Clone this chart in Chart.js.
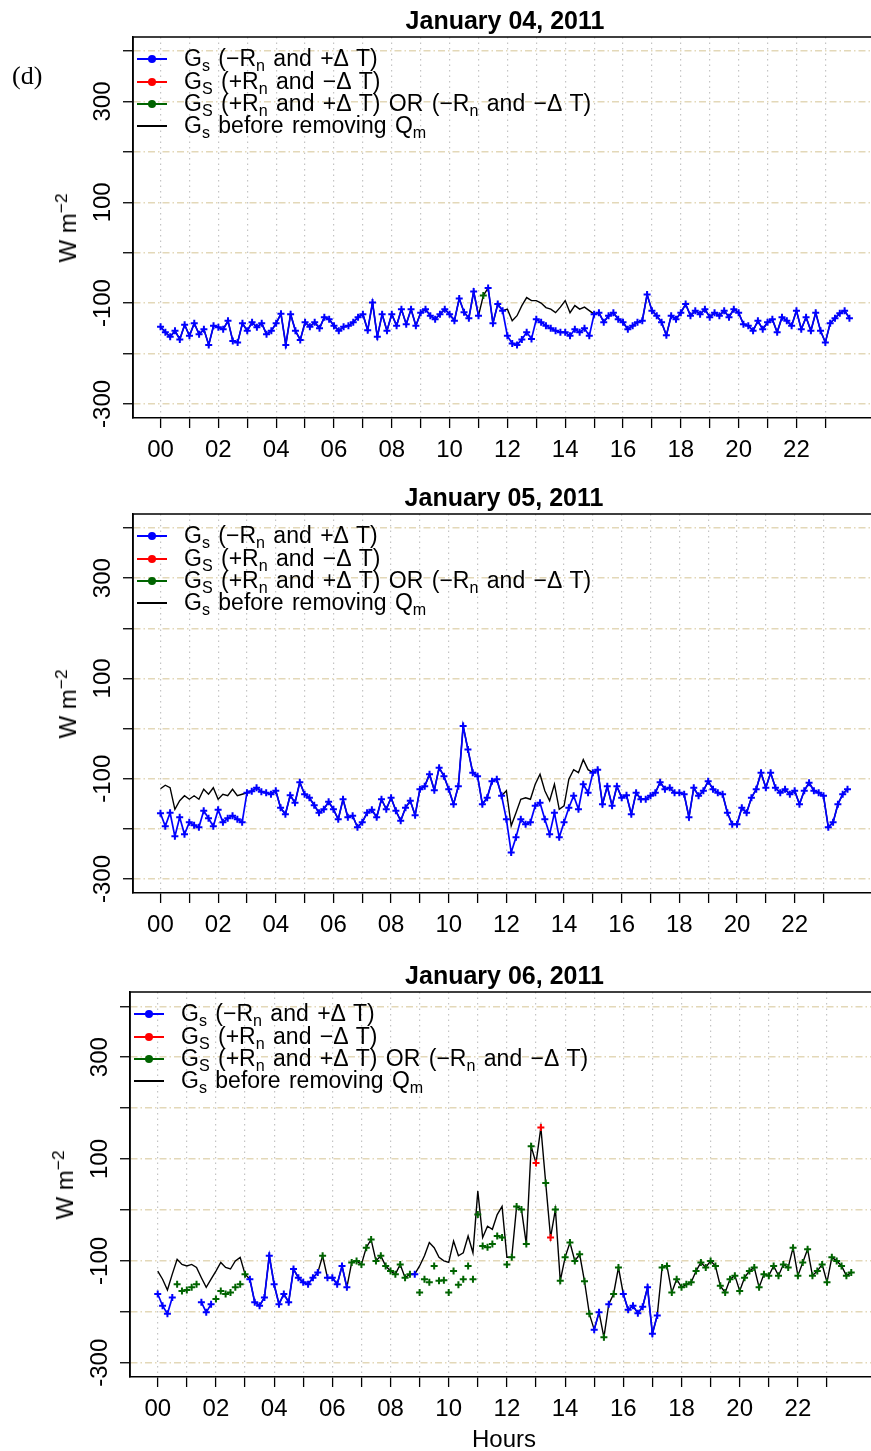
<!DOCTYPE html>
<html>
<head>
<meta charset="utf-8">
<script src="https://cdn.jsdelivr.net/npm/chart.js@4.4.1/dist/chart.umd.min.js"></script>
<style>
  html, body { margin: 0; padding: 0; background: #fff; overflow: hidden; }
  #page { position: relative; width: 871px; height: 1451px; overflow: hidden;
          font-family: "Liberation Sans", Arial, sans-serif; color: #000; }
  canvas { position: absolute; left: 0; }
  .lg-text { position: absolute; font-size: 23px; line-height: 24px; white-space: pre; word-spacing: 2px; }
  .lg-text sub { font-size: 70%; vertical-align: -0.3em; line-height: 0; }
  .lg-line { position: absolute; height: 2px; width: 30px; }
  .lg-dot { position: absolute; width: 8px; height: 8px; border-radius: 50%; }
  .ytitle { position: absolute; font-size: 24px; white-space: pre; transform: translate(-50%, -50%) rotate(-90deg); }
  .ytitle sup { font-size: 72%; vertical-align: 0.55em; line-height: 0; }
  .panel-tag { position: absolute; font-family: "Liberation Serif", "Times New Roman", serif; font-size: 26px; }
  .xtitle { position: absolute; font-size: 24px; transform: translate(-50%, -50%); }
</style>
</head>
<body>
<div id="page"></div>
<script>
// 10-minute ground heat flux, W m-2, one value per slot from 00:00 to 23:50
const STEP_MIN = 10;

const hourTicks = [0, 1, 2, 3, 4, 5, 6, 7, 8, 9, 10, 11, 12, 13, 14, 15, 16, 17, 18, 19, 20, 21, 22, 23];
const hourTickLabels = ['00', '', '02', '', '04', '', '06', '', '08', '', '10', '', '12', '', '14', '', '16', '', '18', '', '20', '', '22', ''];
const yTicks = [-300, -200, -100, 0, 100, 200, 300, 400];
const yTickLabelled = [-300, -100, 100, 300];

// January 04
const gs04 = [
  -147, -158, -167, -155, -172, -143,
  -165, -140, -162, -152, -183, -145,
  -148, -152, -135, -175, -178, -140,
  -155, -138, -148, -140, -162, -155,
  -140, -121, -183, -122, -155, -173,
  -138, -147, -138, -150, -128, -132,
  -145, -155, -147, -145, -138, -128,
  -122, -154, -99, -167, -122, -155,
  -122, -145, -112, -142, -112, -145,
  -119, -112, -125, -132, -122, -112,
  -122, -135, -91, -118, -130, -77,
  -125, -85, -70, -140, -102, -115,
  -165, -180, -183, -172, -158, -171,
  -132, -138, -145, -150, -155, -158,
  -158, -165, -152, -158, -150, -165,
  -122, -119, -138, -125, -119, -132,
  -138, -152, -145, -138, -135, -83,
  -115, -125, -138, -164, -125, -132,
  -119, -102, -125, -115, -122, -112,
  -128, -119, -125, -115, -128, -112,
  -119, -142, -145, -155, -135, -152,
  -138, -132, -158, -128, -135, -145,
  -115, -152, -128, -155, -119, -155,
  -178, -140, -130, -120, -115, -130
];
const before04 = [
  -147, -158, -167, -155, -172, -143,
  -165, -140, -162, -152, -183, -145,
  -148, -152, -135, -175, -178, -140,
  -155, -138, -148, -140, -162, -155,
  -140, -121, -183, -122, -155, -173,
  -138, -147, -138, -150, -128, -132,
  -145, -155, -147, -145, -138, -128,
  -122, -154, -99, -167, -122, -155,
  -122, -145, -112, -142, -112, -145,
  -119, -112, -125, -132, -122, -112,
  -122, -135, -91, -118, -130, -77,
  -125, -85, -70, -140, -102, -115,
  -112, -135, -125, -105, -89, -95,
  -95, -100, -109, -112, -119, -108,
  -95, -119, -105, -112, -108, -115,
  -122, -119, -138, -125, -119, -132,
  -138, -152, -145, -138, -135, -83,
  -115, -125, -138, -164, -125, -132,
  -119, -102, -125, -115, -122, -112,
  -128, -119, -125, -115, -128, -112,
  -119, -142, -145, -155, -135, -152,
  -138, -132, -158, -128, -135, -145,
  -115, -152, -128, -155, -119, -155,
  -178, -140, -130, -120, -115, -130
];
// b: -Rn and +dT, r: +Rn and -dT, g: both same sign
const cls04 = [
  'bbbbbb', 'bbbbbb', 'bbbbbb', 'bbbbbb', 'bbbbbb', 'bbbbbb',
  'bbbbbb', 'bbbbbb', 'bbbbbb', 'bbbbbb', 'bbbbbb', 'bgbbbb',
  'bbbbbb', 'bbbbbb', 'bbbbbb', 'bbbbbb', 'bbbbbb', 'bbbbbb',
  'bbbbbb', 'bbbbbb', 'bbbbbb', 'bbbbbb', 'bbbbbb', 'bbbbbb'
].join('');

// January 05
const gs05 = [
  -169, -195, -168, -215, -177, -211,
  -187, -193, -197, -164, -179, -195,
  -162, -187, -179, -174, -181, -187,
  -128, -125, -118, -126, -128, -131,
  -124, -158, -171, -133, -148, -107,
  -131, -138, -153, -168, -161, -146,
  -161, -181, -141, -177, -174, -197,
  -187, -168, -162, -177, -141, -161,
  -138, -164, -184, -158, -144, -173,
  -121, -115, -91, -123, -78, -95,
  -121, -151, -115, 5, -42, -88,
  -95, -151, -138, -105, -101, -134,
  -181, -247, -217, -181, -191, -187,
  -154, -148, -181, -211, -168, -217,
  -187, -158, -134, -161, -111, -128,
  -88, -82, -151, -115, -154, -115,
  -138, -133, -171, -128, -141, -141,
  -134, -128, -107, -121, -118, -128,
  -128, -131, -177, -118, -134, -124,
  -105, -121, -128, -131, -168, -191,
  -191, -158, -168, -138, -121, -88,
  -118, -88, -118, -128, -121, -131,
  -124, -151, -124, -108, -124, -128,
  -134, -197, -187, -151, -131, -121
];
const before05 = [
  -120, -113, -118, -161, -144, -134,
  -141, -134, -141, -121, -131, -118,
  -141, -131, -134, -121, -134, -131,
  -128, -125, -118, -126, -128, -131,
  -124, -158, -171, -133, -148, -107,
  -131, -138, -153, -168, -161, -146,
  -161, -181, -141, -177, -174, -197,
  -187, -168, -162, -177, -141, -161,
  -138, -164, -184, -158, -144, -173,
  -121, -115, -91, -123, -78, -95,
  -121, -151, -115, 5, -42, -88,
  -95, -151, -138, -105, -101, -134,
  -124, -194, -168, -141, -138, -141,
  -111, -91, -124, -144, -111, -161,
  -154, -101, -82, -88, -62, -82,
  -88, -82, -151, -115, -154, -115,
  -138, -133, -171, -128, -141, -141,
  -134, -128, -107, -121, -118, -128,
  -128, -131, -177, -118, -134, -124,
  -105, -121, -128, -131, -168, -191,
  -191, -158, -168, -138, -121, -88,
  -118, -88, -118, -128, -121, -131,
  -124, -151, -124, -108, -124, -128,
  -134, -197, -187, -151, -131, -121
];
const cls05 = 'bbbbbb'.repeat(24);

// January 06
const gs06 = [
  -165, -188, -204, -172, -146, -159,
  -157, -152, -146, -181, -201, -185,
  -175, -159, -165, -162, -152, -146,
  -126, -136, -181, -188, -172, -90,
  -146, -185, -165, -181, -116, -133,
  -142, -146, -133, -123, -90, -133,
  -133, -146, -110, -152, -103, -100,
  -107, -74, -58, -100, -90, -110,
  -120, -126, -107, -133, -126, -126,
  -162, -136, -142, -110, -139, -138,
  -162, -120, -147, -136, -110, -136,
  -9, -71, -73, -67, -51, -54,
  -107, -93, 7, 1, -67, 125,
  92, 162, 53, -54, 1, -139,
  -93, -64, -100, -87, -140, -204,
  -235, -201, -250, -185, -165, -113,
  -165, -196, -188, -203, -190, -152,
  -243, -207, -113, -110, -162, -136,
  -152, -146, -142, -120, -103, -113,
  -100, -110, -149, -162, -136, -129,
  -159, -133, -120, -113, -152, -126,
  -129, -110, -129, -107, -113, -74,
  -129, -103, -77, -129, -120, -107,
  -142, -93, -100, -110, -129, -123
];
const before06 = [
  -120, -136, -157, -126, -97, -107,
  -110, -107, -113, -133, -152, -136,
  -120, -103, -113, -116, -100, -93,
  -126, -136, -181, -188, -172, -90,
  -146, -185, -165, -181, -116, -133,
  -142, -146, -133, -123, -90, -133,
  -133, -146, -110, -152, -103, -100,
  -107, -74, -58, -100, -90, -110,
  -120, -126, -107, -133, -126, -126,
  -110, -90, -64, -74, -93, -100,
  -103, -61, -90, -84, -51, -84,
  37, -54, -32, -38, -9, 7,
  -93, -93, 7, 1, -67, 125,
  92, 162, 53, -54, 1, -139,
  -93, -64, -100, -87, -140, -204,
  -235, -201, -250, -185, -165, -113,
  -165, -196, -188, -203, -190, -152,
  -243, -207, -113, -110, -162, -136,
  -152, -146, -142, -120, -103, -113,
  -100, -110, -149, -162, -136, -129,
  -159, -133, -120, -113, -152, -126,
  -129, -110, -129, -107, -113, -74,
  -129, -103, -77, -129, -120, -107,
  -142, -93, -100, -110, -129, -123
];
const cls06 = [
  'bbbbgg', 'gggbbb', 'gggggg', 'gbbbbb', 'bbbbbb', 'bbbbgb',
  'bbbbgg', 'gggggg', 'gggggb', 'gggggg', 'gggggg', 'gggggg',
  'gggggg', 'rrgrgg', 'gggggg', 'bbgbgg', 'bbbbbb', 'bbgggg',
  'gggggg', 'gggggg', 'gggggg', 'gggggg', 'gggggg', 'gggggg'
].join('');

const COLORS = { b: '#0000ff', r: '#ff0000', g: '#006400', before: '#000000' };
const FONT = '"Liberation Sans", Arial, sans-serif';

const panels = [
  { title: 'January 04, 2011', gs: gs04, before: before04, cls: cls04, top: 7, height: 461, left: 133, right: 877, tag: true },
  { title: 'January 05, 2011', gs: gs05, before: before05, cls: cls05, top: 484, height: 459, left: 133, right: 875 },
  { title: 'January 06, 2011', gs: gs06, before: before06, cls: cls06, top: 962, height: 465, left: 130, right: 879, hours: true }
];

const CANVAS_W = 885;
const X_AXIS_H = 50;
const TITLE_H = 30;

// box around the plotting region (top edge; left/bottom come from the axes)
const boxFrame = {
  id: 'boxFrame',
  afterDraw(chart) {
    const { ctx, chartArea: a } = chart;
    ctx.save();
    ctx.strokeStyle = '#000';
    ctx.lineWidth = 1.5;
    ctx.beginPath();
    ctx.moveTo(a.left, a.bottom);
    ctx.lineTo(a.left, a.top);
    ctx.lineTo(a.right, a.top);
    ctx.lineTo(a.right, a.bottom);
    ctx.stroke();
    ctx.restore();
  }
};

const timeOf = i => i * STEP_MIN / 60;

function pointsFor(values, classes, cls) {
  return values.map((v, i) => ({ x: timeOf(i), y: classes[i] === cls ? v : null }));
}

function markerSet(label, values, classes, cls, withLine) {
  return {
    label,
    data: pointsFor(values, classes, cls),
    showLine: withLine,
    borderColor: COLORS[cls],
    backgroundColor: COLORS[cls],
    borderWidth: 1.7,
    pointStyle: 'cross',
    pointRadius: 3.5,
    pointBorderWidth: 2,
    pointBorderColor: COLORS[cls],
    spanGaps: false,
    tension: 0
  };
}

const LEGEND_ROWS = [
  { color: COLORS.b, dot: true, html: 'G<sub>s</sub> (\u2212R<sub>n</sub> and +\u0394 T)' },
  { color: COLORS.r, dot: true, html: 'G<sub>S</sub> (+R<sub>n</sub> and \u2212\u0394 T)' },
  { color: COLORS.g, dot: true, html: 'G<sub>S</sub> (+R<sub>n</sub> and +\u0394 T) OR (\u2212R<sub>n</sub> and \u2212\u0394 T)' },
  { color: COLORS.before, dot: false, html: 'G<sub>s</sub> before removing Q<sub>m</sub>' }
];

const page = document.getElementById('page');

function addEl(cls, html, style) {
  const el = document.createElement('div');
  el.className = cls;
  el.innerHTML = html;
  Object.assign(el.style, style);
  page.appendChild(el);
  return el;
}

panels.forEach(p => {
  const canvas = document.createElement('canvas');
  canvas.width = CANVAS_W;
  canvas.height = p.height;
  canvas.style.top = p.top + 'px';
  page.appendChild(canvas);

  const boxTop = p.top + TITLE_H;
  const boxBottom = p.top + p.height - X_AXIS_H;

  new Chart(canvas.getContext('2d'), {
    type: 'line',
    data: {
      datasets: [
        markerSet('Gs (-Rn and +dT)', p.gs, p.cls, 'b', true),
        markerSet('Gs (+Rn and +dT) or (-Rn and -dT)', p.gs, p.cls, 'g', false),
        markerSet('Gs (+Rn and -dT)', p.gs, p.cls, 'r', false),
        {
          label: 'Gs before removing Qm',
          data: p.before.map((v, i) => ({ x: timeOf(i), y: v })),
          borderColor: COLORS.before,
          borderWidth: 1.4,
          pointRadius: 0,
          tension: 0
        }
      ]
    },
    options: {
      responsive: false,
      animation: false,
      devicePixelRatio: 1,
      layout: { padding: { top: 0, left: 0, bottom: 0, right: CANVAS_W - p.right } },
      plugins: {
        legend: { display: false },
        tooltip: { enabled: false },
        title: {
          display: true,
          fullSize: false,
          text: p.title,
          color: '#000',
          padding: 0,
          font: { family: FONT, size: 25, weight: 'bold', lineHeight: 1.2 }
        }
      },
      scales: {
        x: {
          type: 'linear',
          min: -0.953,
          max: 24.787,
          afterBuildTicks: s => { s.ticks = hourTicks.map(v => ({ value: v })); },
          afterFit: s => { s.height = X_AXIS_H; },
          ticks: {
            autoSkip: false,
            maxRotation: 0,
            padding: 8,
            color: '#000',
            font: { family: FONT, size: 24 },
            callback: v => hourTickLabels[hourTicks.indexOf(v)] ?? ''
          },
          grid: {
            color: '#c4c4c4',
            lineWidth: 1.2,
            tickColor: '#000',
            tickLength: 10,
            tickWidth: 1.3,
            tickBorderDash: []
          },
          border: { display: true, color: '#000', width: 1.5, dash: [1.5, 4] }
        },
        y: {
          type: 'linear',
          min: -328,
          max: 428,
          afterBuildTicks: s => { s.ticks = yTicks.map(v => ({ value: v })); },
          afterFit: s => { s.width = p.left; },
          ticks: {
            minRotation: 90,
            maxRotation: 90,
            crossAlign: 'center',
            padding: -4,
            color: '#000',
            font: { family: FONT, size: 24 },
            callback: v => (yTickLabelled.includes(v) ? String(v) : '')
          },
          grid: {
            color: '#e3d8b8',
            lineWidth: 1.5,
            tickColor: '#000',
            tickLength: 10,
            tickWidth: 1.3,
            tickBorderDash: []
          },
          border: { display: true, color: '#000', width: 1.5, dash: [7, 3, 1.5, 3] }
        }
      }
    },
    plugins: [boxFrame]
  });

  // legend block in the upper-left corner of the plot
  const rowGap = 22.3;
  LEGEND_ROWS.forEach((row, k) => {
    const cy = boxTop + 22.3 + k * rowGap;
    addEl('lg-line', '', { left: (p.left + 4) + 'px', top: (cy - 1) + 'px', background: row.color });
    if (row.dot) {
      addEl('lg-dot', '', { left: (p.left + 15) + 'px', top: (cy - 4) + 'px', background: row.color });
    }
    addEl('lg-text', row.html, { left: (p.left + 51) + 'px', top: (cy - 13) + 'px' });
  });

  // y-axis title
  addEl('ytitle', 'W m<sup>\u22122</sup>', { left: (p.left - 65) + 'px', top: ((boxTop + boxBottom) / 2) + 'px' });

  if (p.tag) addEl('panel-tag', '(d)', { left: '12px', top: '61px' });
  if (p.hours) addEl('xtitle', 'Hours', { left: '504px', top: '1439px' });
});
</script>
</body>
</html>
